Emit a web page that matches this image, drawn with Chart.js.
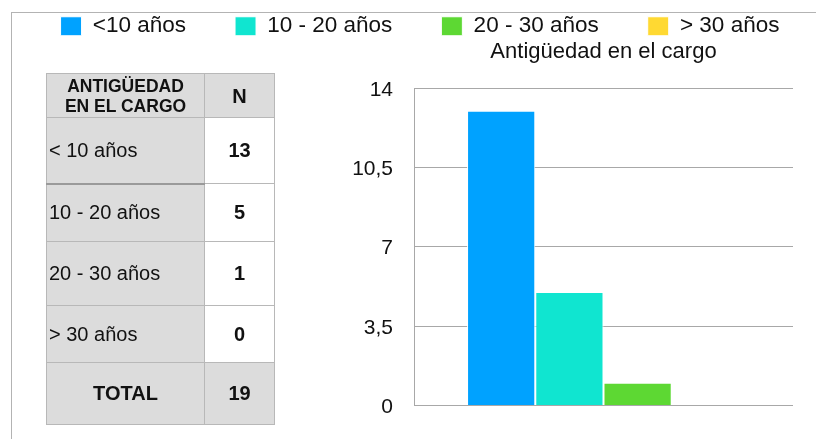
<!DOCTYPE html>
<html>
<head>
<meta charset="utf-8">
<script src="https://cdn.jsdelivr.net/npm/chart.js@4.4.1/dist/chart.umd.min.js"></script>
<style>
  html, body { margin: 0; padding: 0; background: #fff; }
  body { width: 816px; height: 439px; position: relative; overflow: hidden; font-family: 'Liberation Sans', Arial, Helvetica, sans-serif; color: #111; }
  #frame { position: absolute; left: 11px; top: 12px; right: -2px; bottom: -2px; border-top: 1px solid #b3b3b3; border-left: 1px solid #b3b3b3; }
  #chart { position: absolute; left: 0; top: 0; }
  #table { position: absolute; left: 46px; top: 73px; border-collapse: collapse; width: 229px; }
  #table td { border: 1px solid #b8b8b8; padding: 0; font-size: 20px; }
  #table td.label { background: #dcdcdc; width: 155px; text-align: left; padding-left: 2px; }
  #table td.num { background: #fff; text-align: center; font-weight: bold; }
  #table td.head { background: #dcdcdc; text-align: center; font-weight: bold; line-height: 20px; }
  #table td.headSmall { font-size: 17.5px; }
  #table td.dark { border-top: 2px solid #9a9a9a; }
  #table tr.total td { background: #dcdcdc; text-align: center; font-weight: bold; }
</style>
</head>
<body>
<div id="frame"></div>
<canvas id="chart" width="816" height="439"></canvas>
<table id="table"></table>
<script>
'use strict';

var chartTitle = 'Antigüedad en el cargo';
var seriesLabels = ['<10 años', '10 - 20 años', '20 - 30 años', '> 30 años'];
var seriesValues = [13, 5, 1, 0];
var seriesColors = ['#00a2ff', '#10e5d0', '#5dd833', '#ffd932'];
var tableLabels = ['< 10 años', '10 - 20 años', '20 - 30 años', '> 30 años'];
var tableHeader = ['ANTIGÜEDAD<br>EN EL CARGO', 'N'];
var tableTotal = 19;
var rowHeights = [44, 66, 58, 64, 57, 62];
var yTickValues = [0, 3.5, 7, 10.5, 14];

renderTable();
renderChart();

function renderTable(){
  var table = document.getElementById('table');
  var html = '<tr style="height:' + rowHeights[0] + 'px"><td class="head headSmall">' + tableHeader[0] + '</td><td class="head">' + tableHeader[1] + '</td></tr>';
  for(var i = 0; i < tableLabels.length; i++){
    var cls = i === 1 ? 'label dark' : 'label';
    html += '<tr style="height:' + rowHeights[i + 1] + 'px"><td class="' + cls + '">' + tableLabels[i] + '</td><td class="num">' + seriesValues[i] + '</td></tr>';
  }
  html += '<tr class="total" style="height:' + rowHeights[5] + 'px"><td>TOTAL</td><td>' + tableTotal + '</td></tr>';
  table.innerHTML = html;
}

function renderChart(){
  var ctx = document.getElementById('chart').getContext('2d');
  var font = 'Liberation Sans, Arial, Helvetica, sans-serif';

  var datasets = [];
  for(var i = 0; i < seriesLabels.length; i++){
    datasets.push({
      label: seriesLabels[i],
      data: [seriesValues[i]],
      backgroundColor: seriesColors[i],
      borderColor: '#ffffff',
      borderWidth: 1,
    });
  }

  new Chart(ctx, {
    type: 'bar',
    data: {
      labels: [''],
      datasets: datasets,
    },
    options: {
      responsive: false,
      animation: false,
      categoryPercentage: 0.72,
      barPercentage: 1,
      // negative padding lets the wide legend fit on one line
      layout: {
        padding: { left: 11, right: -13, top: -34, bottom: 31 },
      },
      plugins: {
        tooltip: { enabled: false },
        legend: {
          position: 'top',
          maxHeight: 71,
          labels: {
            boxWidth: 21,
            boxHeight: 19,
            padding: 49,
            color: '#111',
            font: { family: font, size: 22.5 },
          },
        },
      },
      scales: {
        x: {
          position: 'top',
          grid: { display: false },
          border: { display: false },
          ticks: { display: false },
          title: {
            display: true,
            text: chartTitle,
            color: '#111',
            font: { family: font, size: 22 },
            padding: { top: 2, bottom: 0 },
          },
          afterFit: function(scale){ scale.height = 51; },
        },
        y: {
          min: 0,
          max: 14,
          grid: { color: '#a8a8a8', drawTicks: false },
          border: { color: '#a8a8a8' },
          afterBuildTicks: function(scale){
            scale.ticks = yTickValues.map(function(v){ return { value: v }; });
          },
          afterFit: function(scale){ scale.width = 414 - 11; },
          ticks: {
            padding: 21,
            labelOffset: 2,
            color: '#111',
            font: { family: font, size: 21 },
            callback: function(value){ return String(value).replace('.', ','); },
          },
        },
        // empty strip on the right so the plot ends where the reference does
        rightGap: {
          position: 'right',
          grid: { display: false },
          border: { display: false },
          ticks: { display: false },
          afterFit: function(scale){ scale.width = 36; },
        },
      },
    },
  });
}
</script>
</body>
</html>
